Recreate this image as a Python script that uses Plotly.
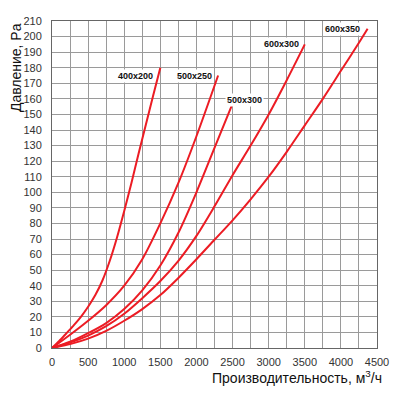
import plotly.graph_objects as go

# Data
x_400x200 = [0, 100, 200, 300, 400, 500, 600, 700, 800, 900, 1000, 1100, 1200, 1300, 1400, 1500]
y_400x200 = [0, 4.5, 9.5, 14.5, 20, 26.5, 34, 43.5, 56, 71, 88, 106, 125, 143.5, 162, 180]

x_500x250 = [0, 250, 500, 750, 1000, 1250, 1500, 1750, 2000, 2300]
y_500x250 = [0, 8.5, 17.5, 27.5, 40, 57, 80, 106, 136, 175]

x_500x300 = [0, 250, 500, 750, 1000, 1250, 1500, 1750, 2000, 2250, 2500]
y_500x300 = [0, 4, 9.5, 16, 25, 37, 53, 74, 100, 128.5, 157]

x_600x300 = [0, 250, 500, 750, 1000, 1250, 1500, 1750, 2000, 2250, 2500, 2750, 3000, 3250, 3500]
y_600x300 = [0, 3.5, 8, 14, 22, 32, 43, 56, 72, 91, 111, 130, 150, 172, 195]

x_600x350 = [0, 250, 500, 750, 1000, 1250, 1500, 1750, 2000, 2250, 2500, 2750, 3000, 3250, 3500, 3750, 4000, 4250, 4370]
y_600x350 = [0, 2.5, 6, 11, 17.5, 25, 34, 45, 57, 69.5, 82, 95.5, 110, 126, 143, 160, 178, 196, 205]

series_names = ["400x200", "500x250", "500x300", "600x300", "600x350"]
label_x = [1160, 1977, 2659, 3172, 4022]
label_y = [175, 175, 159, 195, 204.7]

x_ticks = [0, 500, 1000, 1500, 2000, 2500, 3000, 3500, 4000, 4500]
y_ticks = list(range(0, 211, 10))

series = [
    (x_400x200, y_400x200),
    (x_500x250, y_500x250),
    (x_500x300, y_500x300),
    (x_600x300, y_600x300),
    (x_600x350, y_600x350),
]

RED = "#ec1c24"
fig = go.Figure()
for name, (xs, ys) in zip(series_names, series):
    fig.add_trace(go.Scatter(x=xs, y=ys, mode="lines", name=name,
                             line=dict(color=RED, width=2, shape="spline", smoothing=0.8)))

for name, lx, ly in zip(series_names, label_x, label_y):
    fig.add_annotation(x=lx, y=ly, text=f"<b>{name}</b>", showarrow=False,
                       font=dict(family="Liberation Sans, Arial", size=9, color="#111"),
                       bgcolor="white", borderpad=1)

fig.add_annotation(xref="paper", yref="paper", x=1.0215, y=-0.088,
                   xanchor="right", yanchor="middle", showarrow=False,
                   text="Производительность, м<sup>3</sup>/ч",
                   font=dict(family="Liberation Sans, Arial", size=14, color="#111"))
fig.add_annotation(xref="paper", yref="paper", x=-0.112, y=1.0,
                   xanchor="center", yanchor="top", showarrow=False, textangle=-90,
                   text="Давление, Pa",
                   font=dict(family="Liberation Sans, Arial", size=14, color="#111"))

axis_common = dict(showline=True, linecolor="#666", linewidth=1, mirror=True,
                   gridcolor="#9a9a9a", gridwidth=1, zeroline=False, automargin=False,
                   ticks="outside", tickcolor="rgba(0,0,0,0)",
                   tickfont=dict(family="Liberation Sans, Arial", size=11, color="#333"))

fig.update_xaxes(range=[0, 4500], tickvals=x_ticks, ticklen=4,
                 minor=dict(dtick=250, showgrid=True, gridcolor="#9a9a9a", gridwidth=1),
                 **axis_common)
fig.update_yaxes(range=[0, 210], tickvals=y_ticks, ticklen=7, **axis_common)

# page body has an 8px default margin; size the figure to fit the 400x393 window
fig.update_layout(width=392, height=385, showlegend=False,
                  margin=dict(l=44, r=23, t=13, b=45),
                  plot_bgcolor="white", paper_bgcolor="white")

fig.write_html("out.html")
